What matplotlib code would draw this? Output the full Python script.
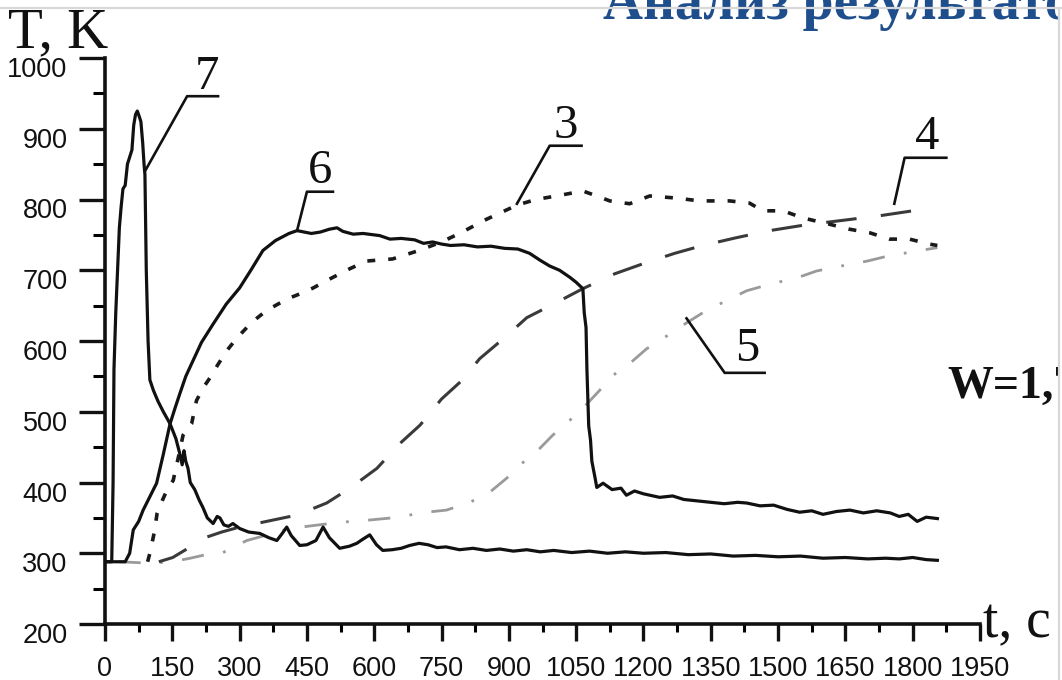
import numpy as np
import matplotlib.pyplot as plt
from matplotlib.ticker import MultipleLocator
from matplotlib.transforms import ScaledTranslation

# Curve 7 (solid): time, s and temperature, K
t7 = [0, 15, 18, 20, 24, 28, 32, 36, 40, 45, 50, 55, 60, 64, 68, 72, 76, 80, 84, 87,
      89, 92, 96, 100, 108, 118, 130, 145, 158, 167, 172, 176, 180, 185, 190, 200,
      210, 218, 228, 241, 250, 256, 265, 275, 285, 300, 320, 345, 365, 383, 395, 405,
      415, 434, 450, 470, 486, 500, 523, 545, 561, 575, 590, 605, 619, 640, 660, 679,
      700, 720, 740, 760, 790, 820, 850, 880, 910, 940, 970, 1000, 1040, 1080, 1120,
      1160, 1200, 1250, 1300, 1350, 1400, 1450, 1500, 1550, 1600, 1650, 1700, 1740,
      1770, 1800, 1830, 1855]
T7 = [288, 288, 400, 560, 640, 700, 760, 790, 815, 820, 850, 860, 870, 905, 920, 925,
      918, 910, 880, 850, 835, 700, 600, 545, 530, 515, 500, 483, 462, 440, 425, 445,
      430, 420, 400, 390, 375, 365, 350, 342, 352, 350, 340, 338, 342, 335, 330, 328,
      322, 318, 328, 337, 325, 311, 312, 318, 337, 322, 307, 310, 314, 320, 326, 312,
      304, 305, 307, 311, 314, 312, 308, 309, 305, 307, 304, 306, 303, 305, 302, 304,
      301, 303, 300, 302, 300, 301, 298, 299, 296, 297, 295, 296, 293, 294, 292, 293,
      292, 294, 291, 290]

# Curve 6 (solid)
t6 = [0, 45, 55, 63, 75, 85, 100, 115, 130, 145, 156, 167, 180, 196, 215, 241, 270,
      300, 325, 352, 380, 410, 428, 460, 480, 500, 517, 530, 553, 575, 612, 635, 660,
      690, 710, 730, 750, 770, 800, 830, 860, 890, 920, 946, 970, 991, 1013, 1036,
      1050, 1065, 1068, 1072, 1074, 1078, 1082, 1085, 1092, 1096, 1110, 1130, 1150,
      1162, 1180, 1200, 1236, 1265, 1290, 1320, 1350, 1380, 1410, 1430, 1460, 1490,
      1520, 1548, 1575, 1600, 1630, 1660, 1690, 1720, 1750, 1770, 1790, 1810, 1830, 1855]
T6 = [288, 288, 300, 333, 345, 361, 380, 399, 440, 483, 505, 526, 550, 572, 598, 624,
      652, 675, 700, 728, 742, 752, 756, 752, 754, 758, 760, 755, 751, 752, 749, 744,
      745, 743, 738, 740, 737, 735, 736, 733, 734, 731, 730, 724, 714, 706, 700, 690,
      683, 674, 640, 619, 560, 480, 460, 430, 407, 393, 399, 390, 392, 382, 388, 384,
      379, 381, 376, 374, 372, 370, 372, 371, 367, 368, 362, 358, 360, 355, 359, 361,
      357, 360, 357, 352, 355, 345, 351, 349]

# Curve 3 (dotted)
t3 = [95, 100, 110, 116, 128, 138, 152, 165, 174, 182, 193, 204, 220, 234, 250, 271,
      295, 316, 340, 360, 385, 412, 440, 464, 490, 508, 545, 583, 641, 700, 750, 790,
      850, 918, 960, 1006, 1065, 1100, 1125, 1169, 1214, 1274, 1325, 1392, 1436, 1466,
      1511, 1555, 1615, 1659, 1704, 1748, 1793, 1837, 1855]
T3 = [288, 300, 330, 356, 375, 389, 403, 440, 467, 474, 483, 516, 535, 548, 565, 586,
      605, 619, 633, 643, 652, 661, 668, 675, 684, 690, 702, 713, 716, 728, 740, 752,
      772, 792, 800, 805, 812, 804, 798, 794, 805, 802, 798, 798, 795, 784, 784, 774,
      765, 758, 753, 744, 744, 737, 735]

# Curve 4 (long dashes)
t4 = [120, 151, 185, 218, 260, 300, 360, 428, 494, 546, 606, 657, 702, 750, 795, 835,
      891, 940, 1002, 1065, 1136, 1207, 1270, 1332, 1407, 1481, 1560, 1650, 1726, 1800]
T4 = [288, 294, 307, 321, 330, 337, 345, 354, 371, 392, 420, 455, 481, 518, 544, 575,
      605, 633, 653, 674, 695, 711, 724, 735, 746, 756, 764, 771, 777, 784]

# Curve 5 (dash-dot)
t5 = [30, 100, 150, 190, 218, 263, 316, 345, 400, 450, 501, 530, 590, 657, 702, 761,
      813, 857, 895, 929, 964, 998, 1036, 1065, 1102, 1131, 1169, 1207, 1247, 1287,
      1340, 1385, 1430, 1486, 1541, 1586, 1641, 1699, 1744, 1808, 1855]
T5 = [288, 286, 288, 293, 297, 301, 318, 323, 333, 338, 342, 344, 347, 351, 357, 361,
      372, 386, 406, 427, 445, 467, 488, 505, 530, 551, 568, 589, 605, 622, 643, 657,
      671, 681, 689, 699, 706, 713, 720, 727, 732]

x_ticks = np.arange(0, 1951, 150)
y_ticks = np.arange(200, 1001, 100)

# callouts: label, point on curve, bend, end of shelf, text position (t, T)
callouts = [
    ("7", (89, 840), (183, 946), (252, 946), (227, 956)),
    ("6", (428, 756), (450, 811), (508, 811), (479, 823)),
    ("3", (918, 794), (991, 876), (1062, 876), (1026, 887)),
    ("4", (1759, 794), (1782, 859), (1875, 859), (1832, 871)),
    ("5", (1296, 632), (1381, 555), (1470, 555), (1432, 572)),
]

W, H = 1062, 680
fig = plt.figure(figsize=(W / 100, H / 100), dpi=100)
fig.patch.set_facecolor("white")

ax = fig.add_axes([105 / W, 1 - 624 / H, 875 / W, 566 / H])
ax.set_xlim(0, 1950)
ax.set_ylim(200, 1000)
for s in ["top", "right"]:
    ax.spines[s].set_visible(False)
for s in ["left", "bottom"]:
    ax.spines[s].set_linewidth(2.6)
    ax.spines[s].set_color("#111111")

ax.plot(t5, T5, color="#9a9a9a", lw=2.0, dashes=(8, 7, 1, 7))
ax.plot(t4, T4, color="#3a3a3a", lw=2.2, dashes=(10, 8))
ax.plot(t3, T3, color="#1a1a1a", lw=2.6, dashes=(2.2, 3.6))
ax.plot(t6, T6, color="#111111", lw=2.3)
ax.plot(t7, T7, color="#111111", lw=2.3)

for lab, p0, p1, p2, pt in callouts:
    ax.plot([p0[0], p1[0], p2[0]], [p0[1], p1[1], p2[1]], color="#111111",
            lw=1.9, clip_on=False)
    ax.text(pt[0], pt[1], lab, ha="center", va="baseline", fontsize=35,
            family="Liberation Serif", color="#111111")

ax.set_xticks(x_ticks)
ax.set_yticks(y_ticks)
ax.xaxis.set_minor_locator(MultipleLocator(75))
ax.yaxis.set_minor_locator(MultipleLocator(50))
ax.tick_params(axis="y", which="major", length=19, width=2.4, pad=8,
               labelsize=19.5, colors="#111111")
ax.tick_params(axis="y", which="minor", length=9, width=2.2)
ax.tick_params(axis="x", which="major", length=12, width=2.4, pad=11,
               labelsize=19.5, colors="#111111")
ax.tick_params(axis="x", which="minor", length=6, width=2.2)
for lbl in ax.get_xticklabels() + ax.get_yticklabels():
    lbl.set_family("Liberation Sans")
shift = ScaledTranslation(0, -0.09, fig.dpi_scale_trans)
for lbl in ax.get_yticklabels():
    lbl.set_transform(lbl.get_transform() + shift)

# axis names
fig.text(8 / W, 1 - 47 / H, "T, K", fontsize=41, family="Liberation Serif",
         color="#111111", va="baseline")
fig.text(983 / W, 1 - 637 / H, "t, c", fontsize=40, family="Liberation Serif",
         color="#111111", va="baseline")

# slide pieces around the chart
fig.text(603 / W, 1 - 19 / H, "Анализ результатов", fontsize=40, weight="bold",
         family="Liberation Serif", color="#1F4E8C", va="baseline")
fig.text(947 / W, 1 - 398 / H, "W=1,7", fontsize=33, weight="bold",
         family="Liberation Serif", color="#111111", va="baseline")
fig.patches.append(plt.Rectangle((1059 / W, 0), 3 / W, 1 - 8 / H, transform=fig.transFigure,
                                 facecolor="white", edgecolor="none", zorder=5))
fig.lines.append(plt.Line2D([0, 1], [1 - 8 / H, 1 - 8 / H], transform=fig.transFigure,
                            color="#d8d8d8", lw=1.6, zorder=6))
fig.lines.append(plt.Line2D([1059 / W, 1059 / W], [0, 1 - 8 / H], transform=fig.transFigure,
                            color="#d8d8d8", lw=1.6, zorder=6))

fig.savefig("out.png", dpi=100)
